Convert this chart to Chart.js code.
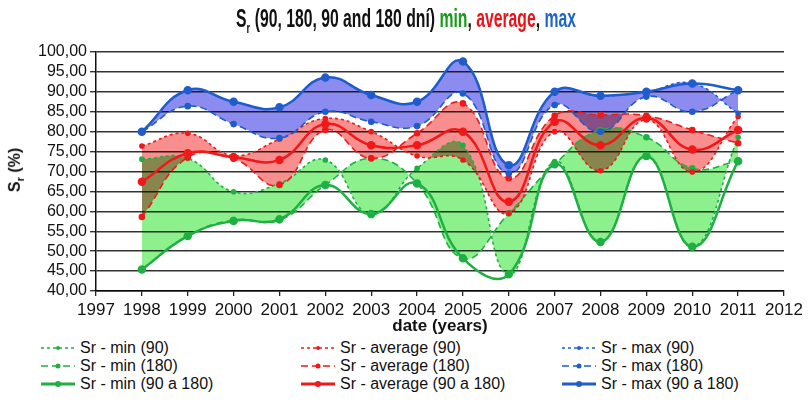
<!DOCTYPE html>
<html><head><meta charset="utf-8">
<script src="https://cdn.jsdelivr.net/npm/chart.js@4.4.0/dist/chart.umd.min.js"></script>
<style>
html,body{margin:0;padding:0;background:#fff;}
#wrap{position:relative;width:811px;height:405px;overflow:hidden;font-family:"Liberation Sans",Arial,sans-serif;color:#111;}
#title{position:absolute;left:0;width:811px;top:4px;text-align:center;font-weight:bold;font-size:25px;white-space:nowrap;transform:scaleX(0.63);transform-origin:407px 50%;}
#title sub{font-size:15px;}
#ytitle{position:absolute;left:16px;top:170px;transform:translate(-50%,-50%) rotate(-90deg);font-weight:bold;font-size:16px;white-space:nowrap;}
#ytitle sub{font-size:11px;}
canvas#c{position:absolute;left:0;top:0;}
.lg{position:absolute;font-size:16px;white-space:nowrap;height:18px;line-height:18px;}
.lg svg{position:absolute;left:0;top:3px;}
.lg span{position:absolute;left:40px;top:0;}
</style></head><body>
<div id="wrap">
<canvas id="c" width="811" height="337"></canvas>
<div id="title">S<sub>r</sub> (90, 180, 90 and 180 dní) <span style="color:#1a9a1a">min</span>, <span style="color:#e8141a">average</span>, <span style="color:#1f66c8">max</span></div>
<div id="ytitle">S<sub>r</sub> (%)</div>
<div id="legend"></div>
</div>
<script>
// ---- data ----
const years = [1998,1999,2000,2001,2002,2003,2004,2005,2006,2007,2008,2009,2010,2011];
const min90  = [73.1,73.3,64.9,67.0,72.9,59.3,70.8,76.6,44.2,72.5,52.3,73.9,51.1,78.6];
const min180 = [45.4,53.8,57.8,57.8,66.6,73.3,67.0,48.2,59.5,71.8,80.4,78.6,70.8,72.6];
const minBoth= [45.4,53.8,57.6,58.0,66.6,59.3,67.0,48.2,44.2,71.8,52.3,73.9,51.1,72.6];
const avg90  = [76.4,79.6,74.0,78.1,83.3,80.0,73.9,72.9,59.5,80.0,70.2,83.0,69.9,83.8];
const avg180 = [58.6,73.5,73.2,66.6,80.4,73.3,79.6,87.1,68.3,84.0,84.2,84.0,80.4,77.1];
const avgBoth= [67.4,74.6,73.6,72.9,81.9,76.6,76.6,80.0,62.4,82.5,76.6,83.4,75.5,80.4];
const max90  = [80.0,90.4,87.5,86.1,93.6,89.2,87.5,97.6,71.6,90.0,89.0,90.0,92.1,84.6];
const max180 = [80.0,86.4,81.9,78.4,85.0,82.5,81.4,89.6,69.5,86.7,80.0,88.8,85.0,90.4];
const maxBoth= [80.0,90.4,87.5,86.1,93.6,89.2,87.5,97.6,71.6,90.0,89.0,90.0,92.1,90.4];
const yTicks = {min:40, max:100, step:5};
const xTicks = {min:1997, max:2012, step:1};

const F = '"Liberation Sans",Arial,sans-serif';
const GREEN='#1eb042', RED='#f01818', BLUE='#1f5ccc';
// opaque fills, blended with "multiply" so overlaps darken like the reference
const GFILL='rgb(140,240,140)', RFILL='rgb(248,142,142)', BFILL='rgb(140,140,240)';
const DASH90=[3,3], DASH180=[7,4];

function pts(arr){ return years.map((x,i)=>({x:x,y:arr[i]})); }
function ds(label,arr,color,dash,width,radius,fill,bg){
  return {label:label,data:pts(arr),borderColor:color,backgroundColor:bg||color,
    pointBackgroundColor:color,pointBorderColor:color,borderDash:dash,borderWidth:width,
    pointRadius:radius,pointHoverRadius:radius,fill:fill===undefined?false:fill,tension:0.45};
}
const datasets = [
  ds('Sr - max (90 a 180)',maxBoth,BLUE,[],2.5,3),
  ds('Sr - average (90 a 180)',avgBoth,RED,[],2.5,3),
  ds('Sr - min (90 a 180)',minBoth,GREEN,[],2.5,3),
  ds('Sr - max (90)',max90,BLUE,DASH90,1.6,2,4,BFILL),
  ds('Sr - max (180)',max180,BLUE,DASH180,1.6,2.5),
  ds('Sr - average (90)',avg90,RED,DASH90,1.6,2,6,RFILL),
  ds('Sr - average (180)',avg180,RED,DASH180,1.6,2.5),
  ds('Sr - min (90)',min90,GREEN,DASH90,1.6,2,8,GFILL),
  ds('Sr - min (180)',min180,GREEN,DASH180,1.6,2.5)
];

// fills are drawn (by the filler plugin) at beforeDatasetsDraw in "multiply" mode;
// this local plugin runs after the filler and restores normal mode for the lines.
const multiplyPlugin = {
  id:'multiplyFill',
  beforeDraw:function(chart){ chart.ctx.globalCompositeOperation='multiply'; },
  beforeDatasetsDraw:function(chart){ chart.ctx.globalCompositeOperation='source-over'; },
  afterDraw:function(chart){ chart.ctx.globalCompositeOperation='source-over'; }
};

new Chart(document.getElementById('c'),{
  type:'line',
  data:{datasets:datasets},
  plugins:[multiplyPlugin],
  options:{
    responsive:false, animation:false, devicePixelRatio:1,
    layout:{padding:{left:0,right:27,top:52,bottom:0}},
    plugins:{legend:{display:false},title:{display:false},tooltip:{enabled:false},
      filler:{propagate:false,drawTime:'beforeDatasetsDraw'}},
    scales:{
      x:{type:'linear',min:xTicks.min,max:xTicks.max,
        afterFit:function(s){s.height=46;},
        ticks:{stepSize:xTicks.step,autoSkip:false,maxRotation:0,padding:4,color:'#111',
          font:{family:F,size:17},callback:function(v){return String(v);}},
        grid:{drawOnChartArea:false,drawTicks:true,tickLength:5,color:'#222',lineWidth:1.3},
        border:{color:'#111',width:1.5},
        title:{display:true,text:'date (years)',color:'#111',font:{family:F,size:17,weight:'bold'},padding:0}
      },
      y:{min:yTicks.min,max:yTicks.max,
        afterFit:function(s){s.width=96;},
        ticks:{stepSize:yTicks.step,autoSkip:false,color:'#111',font:{family:F,size:16},padding:3,
          callback:function(v){return v.toFixed(2).replace('.',',');}},
        grid:{color:'#333',lineWidth:1.4,tickLength:6,drawTicks:true},
        border:{color:'#111',width:1.5}
      }
    }
  }
});

// ---- legend (HTML) ----
const legendItems = [
  ['Sr - min (90)',GREEN,'3,3',1.6,2],['Sr - average (90)',RED,'3,3',1.6,2],['Sr - max (90)',BLUE,'3,3',1.6,2],
  ['Sr - min (180)',GREEN,'7,4',1.6,2.5],['Sr - average (180)',RED,'7,4',1.6,2.5],['Sr - max (180)',BLUE,'7,4',1.6,2.5],
  ['Sr - min (90 a 180)',GREEN,'',2.8,3],['Sr - average (90 a 180)',RED,'',2.8,3],['Sr - max (90 a 180)',BLUE,'',2.8,3]
];
const colX=[40,300,561], rowY=[339,357,375];
const lg=document.getElementById('legend');
legendItems.forEach(function(it,i){
  const d=document.createElement('div'); d.className='lg';
  d.style.left=colX[i%3]+'px'; d.style.top=rowY[Math.floor(i/3)]+'px';
  d.innerHTML='<svg width="36" height="12"><line x1="1" y1="6" x2="35" y2="6" stroke="'+it[1]+'" stroke-width="'+it[3]+'"'+(it[2]?' stroke-dasharray="'+it[2]+'"':'')+'/><circle cx="18" cy="6" r="'+it[4]+'" fill="'+it[1]+'"/></svg><span>'+it[0]+'</span>';
  lg.appendChild(d);
});
</script>
</body></html>
